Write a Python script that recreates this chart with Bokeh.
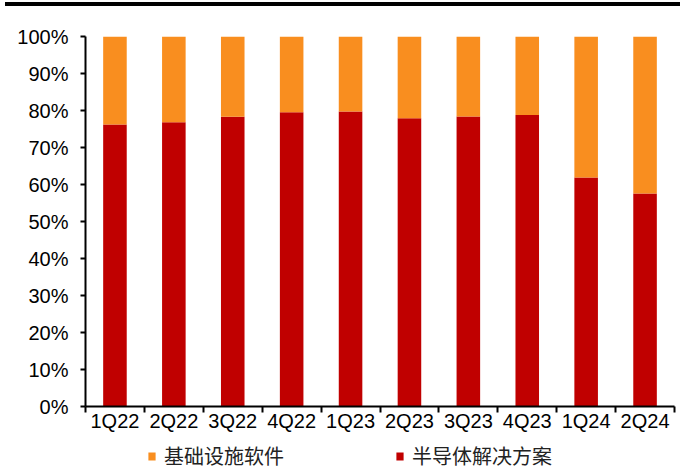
import numpy as np
from bokeh.plotting import figure
from bokeh.models import (ColumnDataSource, FixedTicker, NumeralTickFormatter,
                          Legend, LegendItem, Div, Range1d)
from bokeh.layouts import column
from bokeh.embed import file_html
from bokeh.resources import INLINE

quarters = ["1Q22", "2Q22", "3Q22", "4Q22", "1Q23", "2Q23", "3Q23", "4Q23", "1Q24", "2Q24"]
semiconductor = [0.762, 0.768, 0.783, 0.795, 0.797, 0.779, 0.784, 0.788, 0.619, 0.576]
infrastructure = [0.238, 0.232, 0.217, 0.205, 0.203, 0.221, 0.216, 0.212, 0.381, 0.424]
y_ticks = [0.0, 0.1, 0.2, 0.3, 0.4, 0.5, 0.6, 0.7, 0.8, 0.9, 1.0]
series_names = ["基础设施软件", "半导体解决方案"]

RED = "#C00000"
ORANGE = "#F98E1F"
FONT = "Liberation Sans"

n = len(quarters)
centers = [i + 0.5 for i in range(n)]
source = ColumnDataSource(dict(x=centers, semi=semiconductor, infra=infrastructure))

p = figure(width=684, height=432, x_range=Range1d(0, n), y_range=Range1d(0, 1),
           output_backend="svg", toolbar_location=None,
           min_border_left=85, min_border_right=10, min_border_top=28, min_border_bottom=34)
p.outline_line_color = None
p.xgrid.visible = False
p.ygrid.visible = False

rs = p.vbar_stack(["semi", "infra"], x="x", width=0.40, color=[RED, ORANGE],
                  line_color=None, source=source)

# x axis
xa = p.xaxis[0]
xa.ticker = FixedTicker(ticks=centers, minor_ticks=list(range(n + 1)))
xa.major_label_overrides = {c: q for c, q in zip(centers, quarters)}
xa.major_tick_line_color = None
xa.minor_tick_line_color = "black"
xa.minor_tick_line_width = 2
xa.minor_tick_out = 6
xa.minor_tick_in = 0
xa.axis_line_width = 2
xa.axis_line_color = "black"
xa.major_label_text_font = FONT
xa.major_label_text_font_size = "20px"
xa.major_label_text_color = "black"
xa.major_label_standoff = -3

# y axis
ya = p.yaxis[0]
ya.ticker = FixedTicker(ticks=y_ticks)
ya.formatter = NumeralTickFormatter(format="0%")
ya.major_tick_out = 5
ya.major_tick_in = 0
ya.major_tick_line_width = 2
ya.minor_tick_line_color = None
ya.axis_line_width = 2
ya.axis_line_color = "black"
ya.major_label_text_font = FONT
ya.major_label_text_font_size = "20px"
ya.major_label_text_color = "black"
ya.major_label_standoff = 12

# legend strip below the chart (swatch renderers kept out of its view)
lf = figure(width=684, height=30, x_range=Range1d(100, 101), y_range=Range1d(100, 101),
            output_backend="svg", toolbar_location=None,
            x_axis_type=None, y_axis_type=None,
            min_border_left=0, min_border_right=0, min_border_top=0, min_border_bottom=0)
lf.outline_line_color = None
lf.xgrid.visible = False
lf.ygrid.visible = False
sw_infra = lf.vbar(x="x", top="infra", width=0.40, color=ORANGE, line_color=None, source=source)
sw_semi = lf.vbar(x="x", top="semi", width=0.40, color=RED, line_color=None, source=source)

legend = Legend(items=[LegendItem(label=series_names[0], renderers=[sw_infra]),
                       LegendItem(label=series_names[1], renderers=[sw_semi])],
                orientation="horizontal", location=(62, 0),
                label_text_font="Noto Sans CJK SC", label_text_font_size="20px",
                label_text_color="#222222",
                glyph_width=9, glyph_height=10, label_standoff=8, spacing=111,
                padding=2, margin=0, border_line_color=None, background_fill_alpha=0)
lf.add_layout(legend, "center")

top_line = Div(text="", width=675, height=4, margin=(2, 4, 2, 5),
               styles={"background-color": "#000"})

layout = column(top_line, p, lf, spacing=0)
open("out.html", "w").write(file_html(layout, INLINE))
